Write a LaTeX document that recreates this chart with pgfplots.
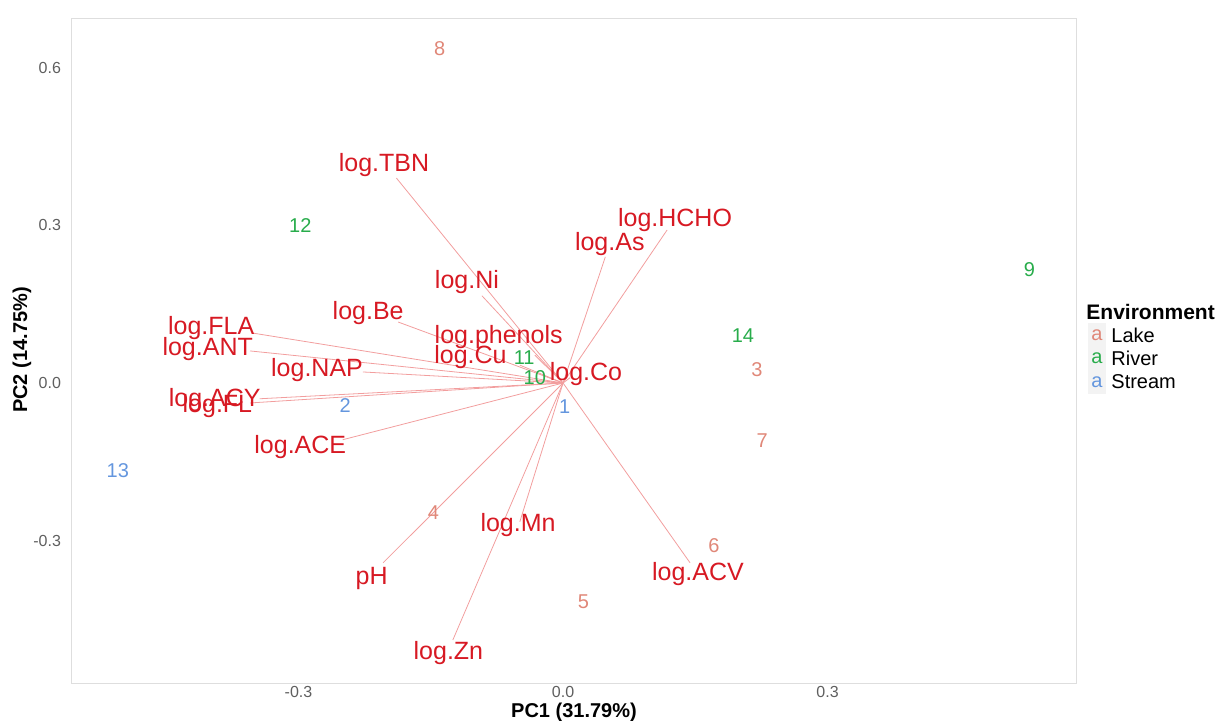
\documentclass[border=0pt]{standalone}
\usepackage{pgfplots}
\pgfplotsset{compat=1.18}
\usepackage{pgfplotstable}
\usepackage{fontspec}
\setmainfont{Liberation Sans}
\definecolor{varred}{RGB}{215,25,35}
\definecolor{arrowred}{RGB}{242,158,158}
\definecolor{lake}{RGB}{224,135,120}
\definecolor{river}{RGB}{40,172,75}
\definecolor{stream}{RGB}{100,150,222}
\definecolor{framegray}{RGB}{222,222,222}
\definecolor{tickgray}{RGB}{95,95,95}
\definecolor{keygray}{RGB}{243,243,243}

\pgfplotstableread{
name ex ey lx ly
log.TBN -0.189 0.390 -0.203 0.415
log.HCHO 0.118 0.291 0.127 0.310
log.As 0.048 0.240 0.053 0.264
log.Ni -0.092 0.166 -0.109 0.192
log.Be -0.187 0.116 -0.221 0.133
log.FLA -0.352 0.095 -0.399 0.105
log.ANT -0.355 0.061 -0.403 0.065
log.phenols -0.032 0.053 -0.073 0.088
log.Cu -0.049 0.034 -0.105 0.049
log.NAP -0.227 0.021 -0.279 0.025
log.Co 0.008 0.010 0.026 0.017
log.ACY -0.344 -0.030 -0.395 -0.032
log.FL -0.355 -0.038 -0.392 -0.044
log.ACE -0.250 -0.108 -0.298 -0.122
pH -0.204 -0.342 -0.217 -0.371
log.Mn -0.049 -0.264 -0.051 -0.270
log.ACV 0.144 -0.342 0.153 -0.363
log.Zn -0.125 -0.489 -0.130 -0.514
}\vars

\pgfplotstableread{
x y lab
-0.140 0.637 8
0.220 0.025 3
0.226 -0.110 7
-0.147 -0.247 4
0.171 -0.310 6
0.023 -0.417 5
}\lake

\pgfplotstableread{
x y lab
-0.298 0.299 12
0.529 0.215 9
0.204 0.091 14
-0.044 0.048 11
-0.032 0.010 10
}\river

\pgfplotstableread{
x y lab
0.002 -0.044 1
-0.247 -0.042 2
-0.505 -0.167 13
}\stream

\begin{document}
\begin{tikzpicture}
\useasboundingbox (0pt,0pt) rectangle (609pt,360pt);
\begin{axis}[
  at={(36pt,18.5pt)}, anchor=south west,
  scale only axis, width=502pt, height=332.5pt,
  xmin=-0.5569, xmax=0.5818, ymin=-0.5708, ymax=0.6944,
  axis line style={draw=framegray, line width=0.5pt},
  xtick={-0.3,0,0.3}, xticklabels={-0.3,0.0,0.3},
  ytick={-0.3,0,0.3,0.6}, yticklabels={-0.3,0.0,0.3,0.6},
  major tick length=0pt,
  ticklabel style={font=\fontsize{8}{8}\selectfont, text=tickgray},
  xticklabel style={yshift=2pt},
  yticklabel style={xshift=-2pt},
  clip=false,
]
\addplot[arrowred, line width=0.4pt, mark=none,
  quiver={u=\thisrow{ex}, v=\thisrow{ey}}]
  table[x expr=0, y expr=0] {\vars};
\addplot[only marks, mark=none, nodes near coords, point meta=explicit symbolic,
  nodes near coords style={anchor=center, inner sep=0pt, text=varred,
    font=\fontsize{12.5}{12.5}\selectfont}]
  table[x=lx, y=ly, meta=name] {\vars};
\addplot[only marks, mark=none, nodes near coords, point meta=explicit symbolic,
  nodes near coords style={anchor=center, inner sep=0pt, text=lake,
    font=\fontsize{10}{10}\selectfont}]
  table[x=x, y=y, meta=lab] {\lake};
\addplot[only marks, mark=none, nodes near coords, point meta=explicit symbolic,
  nodes near coords style={anchor=center, inner sep=0pt, text=river,
    font=\fontsize{10}{10}\selectfont}]
  table[x=x, y=y, meta=lab] {\river};
\addplot[only marks, mark=none, nodes near coords, point meta=explicit symbolic,
  nodes near coords style={anchor=center, inner sep=0pt, text=stream,
    font=\fontsize{10}{10}\selectfont}]
  table[x=x, y=y, meta=lab] {\stream};
\end{axis}
% axis titles
\node[font=\bfseries\fontsize{10}{10}\selectfont] at (287pt,4pt) {PC1 (31.79\%)};
\node[font=\bfseries\fontsize{10}{10}\selectfont, rotate=90] at (11pt,185pt) {PC2 (14.75\%)};
% legend
\node[anchor=west, inner sep=0pt, font=\bfseries\fontsize{10.5}{10.5}\selectfont] at (543pt,204pt) {Environment};
\fill[keygray] (544.2pt,186.6pt) rectangle (552.8pt,198.4pt);
\fill[keygray] (544.2pt,175.1pt) rectangle (552.8pt,186.9pt);
\fill[keygray] (544.2pt,163.1pt) rectangle (552.8pt,174.9pt);
\node[inner sep=0pt, text=lake, font=\fontsize{10}{10}\selectfont] at (548.5pt,192.5pt) {a};
\node[inner sep=0pt, text=river, font=\fontsize{10}{10}\selectfont] at (548.5pt,181pt) {a};
\node[inner sep=0pt, text=stream, font=\fontsize{10}{10}\selectfont] at (548.5pt,169pt) {a};
\node[anchor=west, inner sep=0pt, font=\fontsize{10}{10}\selectfont] at (555.5pt,192.5pt) {Lake};
\node[anchor=west, inner sep=0pt, font=\fontsize{10}{10}\selectfont] at (555.5pt,181pt) {River};
\node[anchor=west, inner sep=0pt, font=\fontsize{10}{10}\selectfont] at (555.5pt,169pt) {Stream};
\end{tikzpicture}
\end{document}
